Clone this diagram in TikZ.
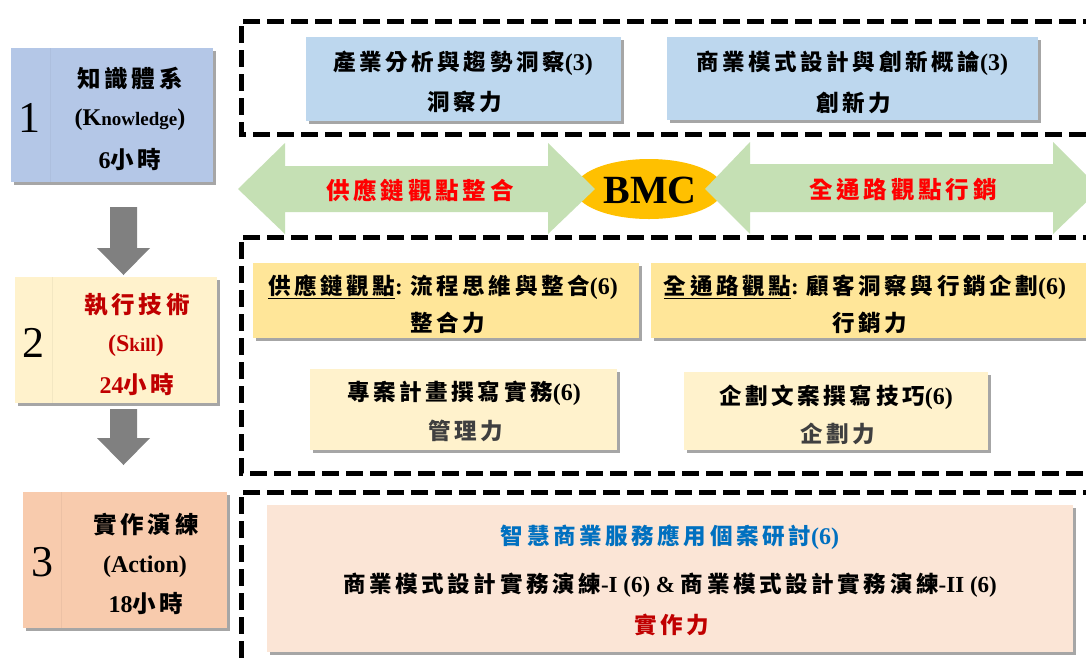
\documentclass[tikz,border=0pt]{standalone}
\usepackage{fontspec}
\setmainfont{Liberation Serif}
\newfontfamily\cjkf[Scale=0.98,LetterSpace=16]{Noto Sans CJK TC}
\newcommand\C[1]{{\cjkf #1}}
\usetikzlibrary{shadows,shapes.geometric}
\definecolor{kblue}{HTML}{B4C7E7}
\definecolor{sbeige}{HTML}{FFF2CC}
\definecolor{apeach}{HTML}{F8CBAD}
\definecolor{tblue}{HTML}{BDD7EE}
\definecolor{myellow}{HTML}{FFE699}
\definecolor{bpink}{HTML}{FBE5D6}
\definecolor{agreen}{HTML}{C5E0B4}
\definecolor{bmcor}{HTML}{FFC000}
\definecolor{agray}{HTML}{808080}
\definecolor{dred}{HTML}{C00000}
\definecolor{bred}{HTML}{FF0000}
\definecolor{tblu}{HTML}{0070C0}
\definecolor{tgray}{HTML}{3F3F3F}
\tikzset{
  boxs/.style={draw=none, inner sep=0pt, drop shadow={shadow xshift=2.5pt, shadow yshift=-2.5pt, fill=black, opacity=0.35}},
  dashbox/.style={draw=black, line width=5pt, dash pattern=on 17pt off 7pt},
  txt/.style={inner sep=0pt, font=\bfseries\fontsize{23}{23}\selectfont},
  ltxt/.style={inner sep=0pt, font=\bfseries\fontsize{24}{24}\selectfont},
  numtxt/.style={inner sep=0pt, font=\fontsize{44}{44}\selectfont},
  garrow/.style={fill=agray, draw=none},
  grarrow/.style={fill=agreen, draw=none},
}
\newcommand\Lat[1]{{\fontsize{24}{24}\selectfont #1}}
\begin{document}
\begin{tikzpicture}[x=1pt,y=-1pt]
\useasboundingbox (0,0) rectangle (1086,657);
\clip (0,0) rectangle (1086,657);
\fill[white] (0,0) rectangle (1086,657);

% dashed frames
\draw[dashbox] (1100,21) -- (241,21) -- (241,134) -- (1100,134);
\draw[dashbox] (1100,237) -- (241,237) -- (241,473) -- (1100,473);
\draw[dashbox] (1100,492) -- (241,492) -- (241,670);

% left column boxes
\node[boxs, fill=kblue, minimum width=202pt, minimum height=134pt] (k) at (112,115) {};
\draw[kblue!85!black, opacity=0.25] (50,48) -- (50,182);
\node[numtxt] (kn) at (29,118) {1};
\node[ltxt] (k1) at (130,78) {\C{知識體系}};
\node[ltxt] (k2) at (130,120) {(K{\fontsize{19}{19}\selectfont nowledge})};
\node[ltxt] (k3) at (130,160) {6\C{小時}};

\node[boxs, fill=sbeige, minimum width=202pt, minimum height=126pt] (s) at (116,340) {};
\draw[sbeige!85!black, opacity=0.3] (52,277) -- (52,403);
\node[numtxt] (sn) at (33,343) {2};
\node[ltxt, text=dred] (s1) at (137,305) {\C{執行技術}};
\node[ltxt, text=dred] (s2) at (136,346) {(S{\fontsize{19}{19}\selectfont kill})};
\node[ltxt, text=dred] (s3) at (137,385) {24\C{小時}};

\node[boxs, fill=apeach, minimum width=204pt, minimum height=136pt] (a) at (125,560) {};
\draw[apeach!85!black, opacity=0.3] (61,492) -- (61,628);
\node[numtxt] (an) at (42,562) {3};
\node[ltxt] (a1) at (146,525) {\C{實作演練}};
\node[ltxt] (a2) at (145,567) {(Action)};
\node[ltxt] (a3) at (146,604) {18\C{小時}};

% gray down arrows
\fill[garrow] (110,207) -- (137,207) -- (137,248) -- (150,248) -- (123.5,275) -- (97,248) -- (110,248) -- cycle;
\fill[garrow] (110,409) -- (137,409) -- (137,438) -- (150,438) -- (123.5,465) -- (97,438) -- (110,438) -- cycle;

% top boxes
\node[boxs, fill=tblue, minimum width=315pt, minimum height=84pt] (t1) at (463.5,79) {};
\node[txt] (t1a) at (463,63) {\C{產業分析與趨勢洞察}\Lat{(3)}};
\node[txt] (t1b) at (465,102) {\C{洞察力}};
\node[boxs, fill=tblue, minimum width=371pt, minimum height=83pt] (t2) at (852.5,78.5) {};
\node[txt] (t2a) at (852,63) {\C{商業模式設計與創新概論}\Lat{(3)}};
\node[txt] (t2b) at (854,103) {\C{創新力}};

% BMC band
\node[ellipse, fill=bmcor, minimum width=148pt, minimum height=60pt, inner sep=0pt] (bmc) at (649,189) {};
\fill[grarrow] (238,189) -- (285,143) -- (285,166) -- (548,166) -- (548,143) -- (595,189) -- (548,234) -- (548,212) -- (285,212) -- (285,234) -- cycle;
\fill[grarrow] (705,189) -- (750,142) -- (750,164) -- (1053,164) -- (1053,142) -- (1100,189) -- (1053,234) -- (1053,212) -- (750,212) -- (750,234) -- cycle;
\node[inner sep=0pt, font=\bfseries\fontsize{40}{40}\selectfont] (bmct) at (650,190) {BMC};
\node[inner sep=0pt, font=\bfseries\fontsize{24}{24}\selectfont, text=bred] (sc) at (420,190) {\C{供應鏈觀點整合}};
\node[inner sep=0pt, font=\bfseries\fontsize{24}{24}\selectfont, text=bred] (oc) at (903,190) {\C{全通路觀點行銷}};

% middle boxes
\node[boxs, fill=myellow, minimum width=386pt, minimum height=75pt] (m1) at (446,300.5) {};
\node[txt] (m1a) at (443,287) {\underline{\C{供應鏈觀點}}: \C{流程思維與整合}\Lat{(6)}};
\node[txt] (m1b) at (448,323) {\C{整合力}};
\node[boxs, fill=myellow, minimum width=442pt, minimum height=75pt] (m2) at (872,300.5) {};
\node[txt] (m2a) at (865,287) {\underline{\C{全通路觀點}}: \C{顧客洞察與行銷企劃}\Lat{(6)}};
\node[txt] (m2b) at (870,323) {\C{行銷力}};
\node[boxs, fill=sbeige, minimum width=307pt, minimum height=81pt] (m3) at (463.5,409.5) {};
\node[txt] (m3a) at (464,393) {\C{專案計畫撰寫實務}\Lat{(6)}};
\node[txt, text=tgray] (m3b) at (466,431) {\C{管理力}};
\node[boxs, fill=sbeige, minimum width=304pt, minimum height=78pt] (m4) at (836,411) {};
\node[txt] (m4a) at (836,397) {\C{企劃文案撰寫技巧}\Lat{(6)}};
\node[txt, text=tgray] (m4b) at (838,434) {\C{企劃力}};

% bottom box
\node[boxs, fill=bpink, minimum width=806pt, minimum height=147pt] (b) at (670,578.5) {};
\node[txt, text=tblu] (b1) at (670,537) {\C{智慧商業服務應用個案研討}\Lat{(6)}};
\node[txt] (b2) at (670,585) {\C{商業模式設計實務演練}-I (6) \& \C{商業模式設計實務演練}-II (6)};
\node[txt, text=dred] (b3) at (672,625) {\C{實作力}};
\end{tikzpicture}
\end{document}
